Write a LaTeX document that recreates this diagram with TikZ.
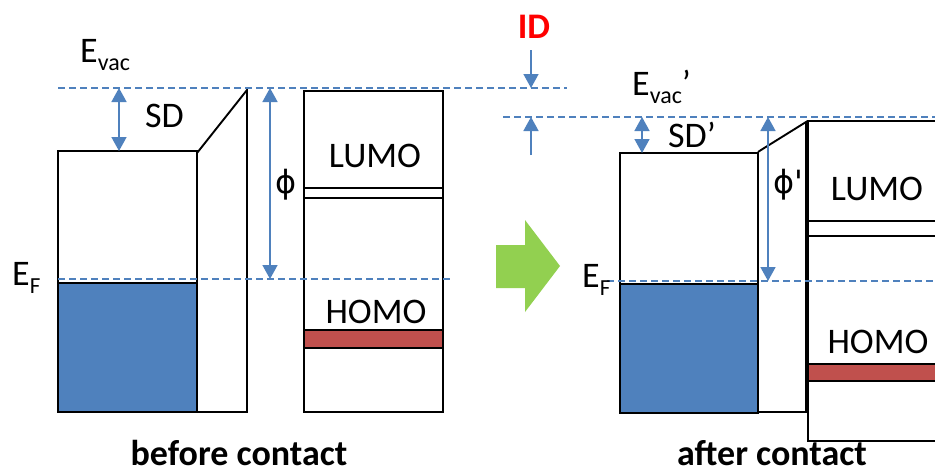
\documentclass[tikz,border=0pt]{standalone}
\usepackage{fontspec}
\setmainfont{Carlito}
\newfontfamily\dejavu{DejaVu Sans}
\usetikzlibrary{arrows.meta}
\definecolor{ofblue}{HTML}{4F81BD}
\definecolor{ofred}{HTML}{C0504D}
\definecolor{ofgreen}{HTML}{92D050}
\begin{document}
\begin{tikzpicture}[x=1pt,y=-1pt,
  box/.style={draw=black, line width=1.9pt},
  iface/.style={draw=black, line width=2.6pt},
  lvl/.style={draw=ofblue, line width=1.6pt, dash pattern=on 7pt off 4pt},
  dimab/.style={draw=ofblue, line width=1.6pt, {Triangle[width=15pt,length=14pt]}-{Triangle[width=15pt,length=14pt]}},
  dimone/.style={draw=ofblue, line width=1.6pt, -{Triangle[width=15pt,length=14pt]}},
  lbl/.style={inner sep=0pt, font=\fontsize{36}{40}\selectfont, anchor=base},
]
\clip (0,0) rectangle (935,474);
\fill[white] (0,0) rectangle (935,474);

% ---------------- before contact ----------------
% metal
\draw[box] (58,151) rectangle (197,412);
\draw[box, fill=ofblue] (58,283) rectangle (197,412);
\draw[box] (197,153) -- (247,90) -- (247,412) -- (197,412);
\draw[iface] (197,151) -- (197,413);
% organic
\draw[box] (304,91) rectangle (443,412);
\draw[box] (304,188) -- (443,188);
\draw[box] (304,198) -- (443,198);
\draw[box, fill=ofred] (304,330) rectangle (443,348);
% levels
\coordinate (vacA) at (58,88);
\coordinate (vacB) at (567,88);
\draw[lvl] (vacA) -- (vacB);
\coordinate (efA) at (58,279);
\coordinate (efB) at (452,279);
\draw[lvl] (efA) -- (efB);
% dimension arrows
\coordinate (sdT) at (119,88);
\coordinate (sdB) at (119,151);
\draw[dimab] (sdT) -- (sdB);
\coordinate (phT) at (270,88);
\coordinate (phB) at (270,279);
\draw[dimab] (phT) -- (phB);
% labels
\node[lbl, anchor=base west] (evac) at (80,62) {E\raisebox{-8pt}{\fontsize{24}{24}\selectfont vac}};
\node[lbl, anchor=base west] (sd) at (145,127) {SD};
\node[inner sep=0pt, font=\dejavu\fontsize{32}{34}\selectfont] (phi) at (286,185) {ϕ};
\node[lbl] (lumo1) at (375,167) {LUMO};
\node[lbl] (homo1) at (376,323) {HOMO};
\node[lbl, anchor=base west] (ef1) at (12,285) {E\raisebox{-8pt}{\fontsize{23}{23}\selectfont F}};
\node[lbl, font=\fontsize{36}{40}\selectfont\bfseries] (before) at (239,465) {before contact};

% ---------------- interface dipole ----------------
\node[lbl, font=\fontsize{36}{40}\selectfont\bfseries, text=red] (id) at (534,38) {ID};
\coordinate (idA) at (531,50);
\coordinate (idB) at (531,88);
\draw[dimone] (idA) -- (idB);
\coordinate (idC) at (531,155);
\coordinate (idD) at (531,117);
\draw[dimone] (idC) -- (idD);

% green arrow
\fill[ofgreen] (496,245) -- (525,245) -- (525,220) -- (560,266) -- (525,312) -- (525,288) -- (496,288) -- cycle;

% ---------------- after contact ----------------
\draw[box] (620,153) rectangle (758,413);
\draw[box, fill=ofblue] (620,284) rectangle (758,413);
\draw[box] (758,152) -- (761,150) -- (806,122) -- (806,412) -- (758,412);
\draw[iface] (758,152) -- (758,413);
\draw[box] (808,121) rectangle (950,441);
\draw[iface] (808,120) -- (808,442);
\draw[box] (808,221) -- (950,221);
\draw[box] (808,236) -- (950,236);
\draw[box, fill=ofred] (808,364) rectangle (950,381);
% levels
\coordinate (vac2A) at (503,117);
\coordinate (vac2B) at (935,117);
\draw[lvl] (vac2A) -- (vac2B);
\coordinate (ef2A) at (607,281);
\coordinate (ef2B) at (935,281);
\draw[lvl] (ef2A) -- (ef2B);
% arrows
\coordinate (sd2T) at (642,117);
\coordinate (sd2B) at (642,153);
\draw[dimab] (sd2T) -- (sd2B);
\coordinate (ph2T) at (768,117);
\coordinate (ph2B) at (768,281);
\draw[dimab] (ph2T) -- (ph2B);
% labels
\node[lbl, anchor=base west] (evac2) at (632,95) {E\raisebox{-8pt}{\fontsize{24}{24}\selectfont vac}’};
\node[lbl, anchor=base west] (sd2) at (668,147) {SD’};
\node[inner sep=0pt, font=\dejavu\fontsize{32}{34}\selectfont] (phi2) at (788,185) {ϕ'};
\node[lbl] (lumo2) at (877,200) {LUMO};
\node[lbl] (homo2) at (878,353) {HOMO};
\node[lbl, anchor=base west] (ef2) at (582,287) {E\raisebox{-8pt}{\fontsize{23}{23}\selectfont F}};
\node[lbl, font=\fontsize{36}{40}\selectfont\bfseries] (after) at (772,465) {after contact};
\end{tikzpicture}
\end{document}
